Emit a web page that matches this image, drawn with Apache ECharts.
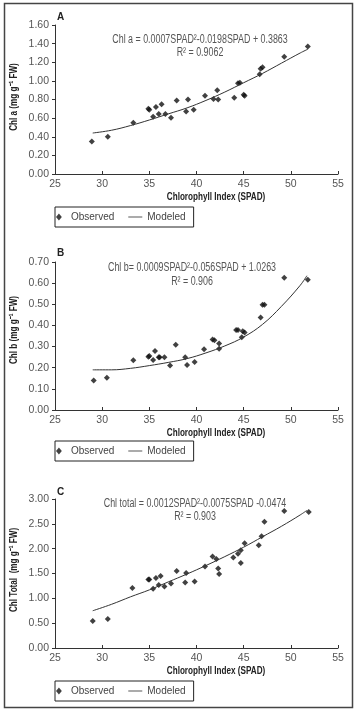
<!DOCTYPE html>
<html>
<head>
<meta charset="utf-8">
<script src="https://cdn.jsdelivr.net/npm/echarts@6/dist/echarts.min.js"></script>
<style>
  html, body { margin: 0; padding: 0; background: #fff; }
  #chart { width: 355px; height: 713px; }
</style>
</head>
<body>
<div id="chart"></div>
<script>
// observed points
const spadA = [28.9, 30.6, 33.3, 34.9, 35.0, 35.4, 35.7, 36.0, 36.3, 36.7, 37.3, 37.9, 38.9, 39.1, 39.7, 40.9, 41.8, 42.2, 42.3, 44.0, 44.4, 44.6, 45.0, 45.1, 46.7, 46.8, 47.0, 49.3, 51.8];
const chlA = [0.35, 0.40, 0.55, 0.70, 0.69, 0.615, 0.72, 0.645, 0.75, 0.645, 0.605, 0.79, 0.67, 0.80, 0.69, 0.84, 0.805, 0.90, 0.80, 0.82, 0.975, 0.98, 0.85, 0.84, 1.07, 1.13, 1.145, 1.26, 1.37];

const spadB = [29.1, 30.5, 33.3, 34.9, 35.0, 35.4, 35.6, 36.0, 36.1, 36.6, 37.2, 37.8, 38.8, 39.0, 39.8, 40.8, 41.7, 41.9, 42.4, 42.4, 44.2, 44.4, 44.8, 44.9, 45.1, 46.8, 47.0, 47.2, 49.3, 51.8];
const chlB = [0.14, 0.153, 0.235, 0.252, 0.255, 0.237, 0.279, 0.25, 0.25, 0.25, 0.211, 0.309, 0.25, 0.213, 0.227, 0.287, 0.334, 0.33, 0.315, 0.29, 0.378, 0.378, 0.344, 0.372, 0.366, 0.438, 0.498, 0.498, 0.626, 0.616];

const spadC = [29.0, 30.6, 33.2, 34.9, 35.0, 35.4, 35.7, 36.0, 36.2, 36.6, 37.3, 37.9, 38.8, 38.9, 39.8, 40.9, 41.7, 42.1, 42.3, 42.4, 43.9, 44.4, 44.7, 44.7, 45.1, 46.6, 46.9, 47.2, 49.3, 51.9];
const chlC = [0.545, 0.585, 1.21, 1.38, 1.38, 1.195, 1.41, 1.27, 1.45, 1.24, 1.30, 1.55, 1.32, 1.51, 1.34, 1.64, 1.84, 1.79, 1.60, 1.49, 1.82, 1.90, 1.97, 1.71, 2.11, 2.07, 2.25, 2.54, 2.76, 2.74];

// fitted curves
const fitSpadA = [29, 31, 33, 35, 37, 39, 41, 43, 45, 47, 49, 51, 51.8];
const fitA = [0.44, 0.47, 0.52, 0.58, 0.645, 0.71, 0.79, 0.88, 0.98, 1.08, 1.19, 1.30, 1.34];
const fitSpadB = [29, 31, 33, 35, 37, 39, 41, 43, 45, 47, 49, 51, 51.7];
const fitB = [0.19, 0.19, 0.197, 0.21, 0.225, 0.243, 0.27, 0.303, 0.345, 0.405, 0.49, 0.59, 0.635];
const fitSpadC = [29, 31, 33, 35, 37, 39, 41, 43, 45, 47, 49, 51, 51.7];
const fitC = [0.75, 0.88, 1.03, 1.17, 1.33, 1.49, 1.66, 1.84, 2.03, 2.24, 2.45, 2.68, 2.77];

const xTicks = { min: 25, max: 55, interval: 5 };
const yMax = [1.6, 0.7, 3.0];
const yStep = [0.2, 0.1, 0.5];
const panelLetters = ['A', 'B', 'C'];
const xTitle = 'Chlorophyll Index (SPAD)';
const yTitles = ['Chl a (mg g\u207B\u00B9 FW)', 'Chl b (mg g\u207B\u00B9 FW)', 'Chl Total  (mg g\u207B\u00B9 FW)'];
const equations = [
    'Chl a = 0.0007SPAD\u00B2-0.0198SPAD + 0.3863',
    'Chl b= 0.0009SPAD\u00B2-0.056SPAD + 1.0263',
    'Chl total = 0.0012SPAD\u00B2-0.0075SPAD -0.0474'
];
const r2 = ['R\u00B2 = 0.9062', 'R\u00B2 = 0.906', 'R\u00B2 = 0.903'];

const FONT = "'Liberation Sans', Arial, sans-serif";
// the source figure uses a condensed face; squeeze free text horizontally
const NARROW = 0.74;
const BOLD_NARROW = 0.74;

const obs = [[spadA, chlA], [spadB, chlB], [spadC, chlC]];
const fits = [[fitSpadA, fitA], [fitSpadB, fitB], [fitSpadC, fitC]];

// layout per panel
const gridTop = [25, 262, 499];
const gridH = [149, 148, 149];
const legendTop = [207, 441, 681];
const letterY = [17, 253, 492];
const xTitleY = [197, 433, 671];
const yTitleY = [97, 330, 570];
const eqPos = [[200, 40, 53], [192, 268, 282], [195, 504, 517]];

const zip = (xs, ys) => xs.map((x, i) => [x, ys[i]]);

const grid = [], xAxis = [], yAxis = [], series = [], legend = [], graphic = [];

graphic.push({
    type: 'rect',
    shape: { x: 4.5, y: 3.5, width: 348, height: 704 },
    style: { fill: 'none', stroke: '#444', lineWidth: 1.5 }
});

const label = (text, x, y, opts) => Object.assign({
    type: 'text', x: x, y: y,
    style: { text: text, font: '12px ' + FONT, fill: '#555', textAlign: 'center', textVerticalAlign: 'middle' }
}, opts || {});

for (let i = 0; i < 3; i++) {
    grid.push({ left: 55, top: gridTop[i], width: 283, height: gridH[i] });
    xAxis.push({
        gridIndex: i,
        type: 'value',
        min: xTicks.min, max: xTicks.max, interval: xTicks.interval,
        axisLine: { lineStyle: { color: '#333', width: 1 } },
        axisTick: { inside: true, length: 3, lineStyle: { color: '#333' } },
        axisLabel: { fontFamily: FONT, fontSize: 10.5, color: '#555', margin: 5 },
        splitLine: { show: false }
    });
    yAxis.push({
        gridIndex: i,
        type: 'value',
        min: 0, max: yMax[i], interval: yStep[i],
        axisLine: { show: true, lineStyle: { color: '#333', width: 1 } },
        axisTick: { show: true, length: 3, lineStyle: { color: '#333' } },
        axisLabel: { fontFamily: FONT, fontSize: 10.5, color: '#555', margin: 6, formatter: v => v.toFixed(2) },
        splitLine: { show: false }
    });
    series.push({
        name: 'Observed',
        type: 'scatter',
        xAxisIndex: i, yAxisIndex: i,
        symbol: 'diamond',
        symbolSize: 6,
        itemStyle: { color: '#111' },
        data: zip(obs[i][0], obs[i][1])
    });
    series.push({
        name: 'Modeled',
        type: 'line',
        xAxisIndex: i, yAxisIndex: i,
        smooth: 0.4,
        symbol: 'none',
        lineStyle: { color: '#333', width: 1 },
        itemStyle: { color: '#333' },
        data: zip(fits[i][0], fits[i][1])
    });
    legend.push({
        left: 55, top: legendTop[i],
        orient: 'horizontal',
        data: [
            { name: 'Observed', icon: 'path://M5,0L10,6L5,12L0,6Z' },
            { name: 'Modeled', icon: 'path://M0,0L20,0L20,1L0,1Z' }
        ],
        selectedMode: false,
        symbolKeepAspect: true,
        itemWidth: 14, itemHeight: 7, itemGap: 14,
        padding: [5, 8, 5, 1],
        borderColor: '#222', borderWidth: 1, borderRadius: 0,
        itemStyle: { color: '#111' },
        textStyle: { fontFamily: FONT, fontSize: 10, color: '#444' }
    });
    // panel letter
    graphic.push(label(panelLetters[i], 57, letterY[i], {
        style: { text: panelLetters[i], font: 'bold 10px ' + FONT, fill: '#222', textVerticalAlign: 'middle' }
    }));
    // fitted equation and R²
    graphic.push(label(equations[i], eqPos[i][0], eqPos[i][1], { scaleX: NARROW }));
    graphic.push(label(r2[i], eqPos[i][0], eqPos[i][2], { scaleX: NARROW }));
    // axis titles
    graphic.push(label(xTitle, 216, xTitleY[i], {
        scaleX: BOLD_NARROW,
        style: { text: xTitle, font: 'bold 11px ' + FONT, fill: '#222', textAlign: 'center', textVerticalAlign: 'middle' }
    }));
    graphic.push(label(yTitles[i], 14, yTitleY[i], {
        rotation: Math.PI / 2,
        scaleX: BOLD_NARROW,
        style: { text: yTitles[i], font: 'bold 11px ' + FONT, fill: '#222', textAlign: 'center', textVerticalAlign: 'middle' }
    }));
}

const chart = echarts.init(document.getElementById('chart'));
chart.setOption({
    animation: false,
    backgroundColor: '#fff',
    grid, xAxis, yAxis, series, legend, graphic
});
</script>
</body>
</html>
